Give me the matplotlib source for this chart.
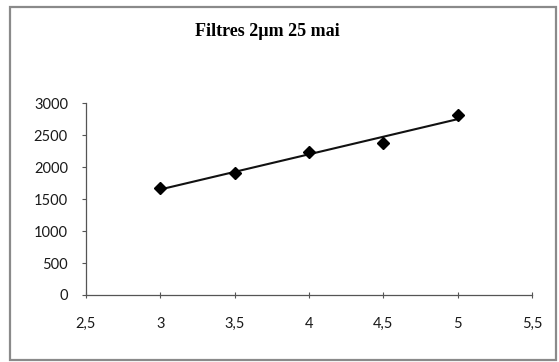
import numpy as np
import matplotlib
matplotlib.use("Agg")
import matplotlib.pyplot as plt
from matplotlib.patches import Rectangle

# data
x_vals = [3, 3.5, 4, 4.5, 5]
y_vals = [1670, 1910, 2240, 2380, 2810]
x_ticks = [2.5, 3, 3.5, 4, 4.5, 5, 5.5]
x_labels = ["2,5", "3", "3,5", "4", "4,5", "5", "5,5"]
y_ticks = [0, 500, 1000, 1500, 2000, 2500, 3000]
y_labels = ["0", "500", "1000", "1500", "2000", "2500", "3000"]
title = "Filtres 2µm 25 mai"

fig = plt.figure(figsize=(5.59, 3.62), dpi=100)
fig.patch.set_facecolor("white")

# outer chart border
fig.patches.append(Rectangle((10/559, 2/362), 546/559, 353/362, transform=fig.transFigure,
                             fill=False, edgecolor="#8a8a8a", linewidth=1.6))

ax = fig.add_axes([86/559, 1-295/362, 446/559, 191.7/362])

# linear trendline
coef = np.polyfit(x_vals, y_vals, 1)
xs = np.array([x_vals[0], x_vals[-1]])
ax.plot(xs, np.polyval(coef, xs), color="#111111", linewidth=1.5, zorder=2)
ax.plot(x_vals, y_vals, linestyle="none", marker="D", markersize=6,
        color="black", zorder=3)

ax.set_xlim(2.5, 5.5)
ax.set_ylim(0, 3000)
ax.set_xticks(x_ticks)
ax.set_xticklabels(x_labels)
ax.set_yticks(y_ticks)
ax.set_yticklabels(y_labels)

for s in ["top", "right"]:
    ax.spines[s].set_visible(False)
for s in ["left", "bottom"]:
    ax.spines[s].set_color("#555555")
    ax.spines[s].set_linewidth(0.9)

ax.tick_params(axis="x", direction="inout", length=5, width=0.8, color="#555555", pad=13)
ax.tick_params(axis="y", direction="out", length=3, width=0.8, color="#555555", pad=10)
for lab in ax.get_xticklabels() + ax.get_yticklabels():
    lab.set_fontfamily("Lato")
    lab.set_fontsize(10.5)
    lab.set_color("#1a1a1a")

fig.text(267/559, 1-32/362, title, ha="center", va="center",
         fontfamily="Liberation Serif", fontweight="bold", fontsize=13)

fig.savefig("out.png", dpi=100, facecolor="white")
